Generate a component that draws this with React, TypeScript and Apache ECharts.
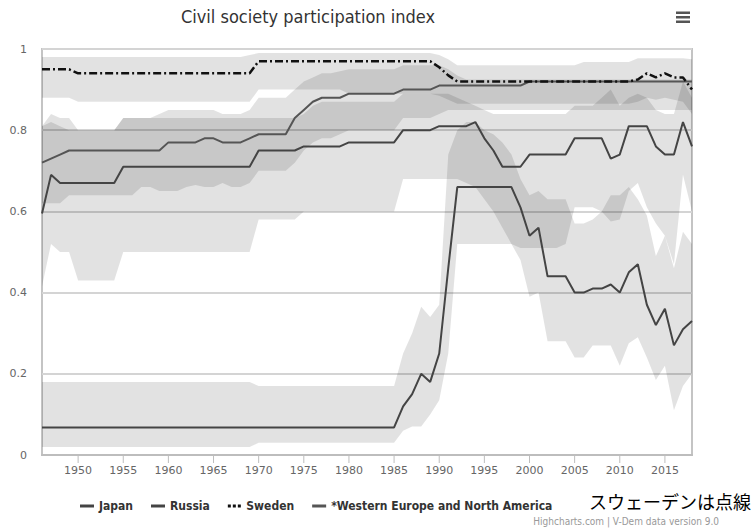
import React, { useEffect, useRef } from "react";
import * as echarts from "echarts";

// 1946 .. 2018
const years: number[] = Array.from({ length: 73 }, (_, i) => 1946 + i);

const xTickYears = [1950, 1955, 1960, 1965, 1970, 1975, 1980, 1985, 1990, 1995, 2000, 2005, 2010, 2015];

// ---- lines ----
const japan = [
  0.595, 0.69, 0.67, 0.67, 0.67, 0.67, 0.67, 0.67, 0.67, 0.71,
  0.71, 0.71, 0.71, 0.71, 0.71, 0.71, 0.71, 0.71, 0.71, 0.71,
  0.71, 0.71, 0.71, 0.71, 0.75, 0.75, 0.75, 0.75, 0.75, 0.76,
  0.76, 0.76, 0.76, 0.76, 0.77, 0.77, 0.77, 0.77, 0.77, 0.77,
  0.80, 0.80, 0.80, 0.80, 0.81, 0.81, 0.81, 0.81, 0.82, 0.78,
  0.75, 0.71, 0.71, 0.71, 0.74, 0.74, 0.74, 0.74, 0.74, 0.78,
  0.78, 0.78, 0.78, 0.73, 0.74, 0.81, 0.81, 0.81, 0.76, 0.74,
  0.74, 0.82, 0.76,
];
const russia = [
  0.068, 0.068, 0.068, 0.068, 0.068, 0.068, 0.068, 0.068, 0.068, 0.068,
  0.068, 0.068, 0.068, 0.068, 0.068, 0.068, 0.068, 0.068, 0.068, 0.068,
  0.068, 0.068, 0.068, 0.068, 0.068, 0.068, 0.068, 0.068, 0.068, 0.068,
  0.068, 0.068, 0.068, 0.068, 0.068, 0.068, 0.068, 0.068, 0.068, 0.068,
  0.12, 0.15, 0.20, 0.18, 0.25, 0.46, 0.66, 0.66, 0.66, 0.66,
  0.66, 0.66, 0.66, 0.61, 0.54, 0.56, 0.44, 0.44, 0.44, 0.40,
  0.40, 0.41, 0.41, 0.42, 0.40, 0.45, 0.47, 0.37, 0.32, 0.36,
  0.27, 0.31, 0.33,
];
const sweden = [
  0.95, 0.95, 0.95, 0.95, 0.94, 0.94, 0.94, 0.94, 0.94, 0.94,
  0.94, 0.94, 0.94, 0.94, 0.94, 0.94, 0.94, 0.94, 0.94, 0.94,
  0.94, 0.94, 0.94, 0.94, 0.97, 0.97, 0.97, 0.97, 0.97, 0.97,
  0.97, 0.97, 0.97, 0.97, 0.97, 0.97, 0.97, 0.97, 0.97, 0.97,
  0.97, 0.97, 0.97, 0.97, 0.955, 0.935, 0.92, 0.92, 0.92, 0.92,
  0.92, 0.92, 0.92, 0.92, 0.92, 0.92, 0.92, 0.92, 0.92, 0.92,
  0.92, 0.92, 0.92, 0.92, 0.92, 0.92, 0.925, 0.94, 0.93, 0.94,
  0.93, 0.93, 0.90,
];
const westEurope = [
  0.72, 0.73, 0.74, 0.75, 0.75, 0.75, 0.75, 0.75, 0.75, 0.75,
  0.75, 0.75, 0.75, 0.75, 0.77, 0.77, 0.77, 0.77, 0.78, 0.78,
  0.77, 0.77, 0.77, 0.78, 0.79, 0.79, 0.79, 0.79, 0.83, 0.85,
  0.87, 0.88, 0.88, 0.88, 0.89, 0.89, 0.89, 0.89, 0.89, 0.89,
  0.90, 0.90, 0.90, 0.90, 0.91, 0.91, 0.91, 0.91, 0.91, 0.91,
  0.91, 0.91, 0.91, 0.91, 0.92, 0.92, 0.92, 0.92, 0.92, 0.92,
  0.92, 0.92, 0.92, 0.92, 0.92, 0.92, 0.92, 0.92, 0.92, 0.92,
  0.92, 0.92, 0.92,
];

// ---- confidence bands ----
const japanLow = [
  0.415, 0.52, 0.50, 0.50, 0.43, 0.43, 0.43, 0.43, 0.43, 0.50,
  0.50, 0.50, 0.50, 0.50, 0.50, 0.50, 0.50, 0.50, 0.50, 0.50,
  0.50, 0.50, 0.50, 0.50, 0.58, 0.58, 0.58, 0.58, 0.58, 0.60,
  0.60, 0.60, 0.60, 0.60, 0.60, 0.60, 0.60, 0.60, 0.60, 0.60,
  0.68, 0.68, 0.68, 0.68, 0.68, 0.68, 0.68, 0.67, 0.66, 0.63,
  0.60, 0.56, 0.52, 0.51, 0.51, 0.51, 0.51, 0.51, 0.52, 0.61,
  0.61, 0.61, 0.60, 0.575, 0.58, 0.65, 0.67, 0.61, 0.57, 0.54,
  0.47, 0.69, 0.60,
];
const japanHigh = [
  0.81, 0.82, 0.81, 0.80, 0.80, 0.80, 0.80, 0.80, 0.80, 0.83,
  0.83, 0.83, 0.83, 0.83, 0.83, 0.83, 0.83, 0.83, 0.83, 0.83,
  0.83, 0.83, 0.83, 0.83, 0.83, 0.83, 0.83, 0.83, 0.83, 0.84,
  0.86, 0.87, 0.87, 0.87, 0.87, 0.87, 0.87, 0.87, 0.87, 0.87,
  0.89, 0.89, 0.89, 0.89, 0.89, 0.89, 0.88, 0.87, 0.86, 0.85,
  0.84, 0.84, 0.84, 0.84, 0.84, 0.84, 0.84, 0.84, 0.84, 0.86,
  0.86, 0.86, 0.88, 0.90, 0.86, 0.88, 0.89, 0.88, 0.85, 0.84,
  0.84, 0.92, 0.88,
];
const russiaLow = [
  0.02, 0.02, 0.02, 0.02, 0.02, 0.02, 0.02, 0.02, 0.02, 0.02,
  0.02, 0.02, 0.02, 0.02, 0.02, 0.02, 0.02, 0.02, 0.02, 0.02,
  0.02, 0.02, 0.02, 0.02, 0.03, 0.03, 0.03, 0.03, 0.03, 0.03,
  0.03, 0.03, 0.03, 0.03, 0.03, 0.03, 0.03, 0.03, 0.03, 0.03,
  0.06, 0.07, 0.07, 0.10, 0.135, 0.25, 0.52, 0.52, 0.52, 0.52,
  0.52, 0.52, 0.52, 0.48, 0.39, 0.40, 0.28, 0.28, 0.28, 0.24,
  0.24, 0.27, 0.27, 0.27, 0.22, 0.275, 0.29, 0.24, 0.185, 0.22,
  0.11, 0.17, 0.20,
];
const russiaHigh = [
  0.18, 0.18, 0.18, 0.18, 0.18, 0.18, 0.18, 0.18, 0.18, 0.18,
  0.18, 0.18, 0.18, 0.18, 0.18, 0.18, 0.18, 0.18, 0.18, 0.18,
  0.18, 0.18, 0.18, 0.18, 0.17, 0.17, 0.17, 0.17, 0.17, 0.17,
  0.17, 0.17, 0.17, 0.17, 0.17, 0.17, 0.17, 0.17, 0.17, 0.17,
  0.25, 0.30, 0.365, 0.34, 0.37, 0.74, 0.80, 0.82, 0.82, 0.80,
  0.79, 0.77, 0.74, 0.68, 0.64, 0.65, 0.63, 0.63, 0.63, 0.57,
  0.57, 0.58, 0.60, 0.64, 0.64, 0.66, 0.63, 0.59, 0.49, 0.54,
  0.46, 0.55, 0.52,
];
const swedenLow = [
  0.88, 0.88, 0.88, 0.88, 0.87, 0.87, 0.87, 0.87, 0.87, 0.87,
  0.87, 0.87, 0.87, 0.87, 0.87, 0.87, 0.87, 0.87, 0.87, 0.87,
  0.87, 0.87, 0.87, 0.87, 0.90, 0.90, 0.90, 0.90, 0.90, 0.90,
  0.90, 0.90, 0.90, 0.90, 0.89, 0.89, 0.89, 0.89, 0.89, 0.89,
  0.89, 0.89, 0.89, 0.89, 0.885, 0.875, 0.865, 0.865, 0.865, 0.865,
  0.865, 0.865, 0.865, 0.865, 0.865, 0.865, 0.865, 0.865, 0.865, 0.865,
  0.865, 0.865, 0.865, 0.865, 0.865, 0.865, 0.87, 0.88, 0.875, 0.88,
  0.875, 0.87, 0.84,
];
const swedenHigh = [
  0.98, 0.98, 0.98, 0.98, 0.98, 0.98, 0.98, 0.98, 0.98, 0.98,
  0.98, 0.98, 0.98, 0.98, 0.98, 0.98, 0.98, 0.98, 0.98, 0.98,
  0.98, 0.98, 0.98, 0.985, 0.99, 0.99, 0.99, 0.99, 0.99, 0.99,
  0.99, 0.99, 0.99, 0.99, 0.99, 0.99, 0.99, 0.99, 0.99, 0.99,
  0.99, 0.99, 0.99, 0.99, 0.985, 0.975, 0.96, 0.96, 0.96, 0.96,
  0.96, 0.96, 0.96, 0.96, 0.96, 0.96, 0.96, 0.96, 0.96, 0.96,
  0.968, 0.968, 0.968, 0.968, 0.968, 0.968, 0.977, 0.977, 0.977, 0.977,
  0.977, 0.977, 0.975,
];
const westEuropeLow = [
  0.62, 0.62, 0.62, 0.64, 0.64, 0.64, 0.64, 0.64, 0.64, 0.64,
  0.64, 0.66, 0.66, 0.65, 0.65, 0.65, 0.66, 0.665, 0.66, 0.66,
  0.67, 0.66, 0.66, 0.67, 0.70, 0.70, 0.70, 0.70, 0.72, 0.75,
  0.77, 0.78, 0.78, 0.79, 0.80, 0.80, 0.80, 0.80, 0.80, 0.80,
  0.83, 0.83, 0.83, 0.83, 0.84, 0.85, 0.85, 0.85, 0.85, 0.85,
  0.85, 0.85, 0.85, 0.85, 0.85, 0.85, 0.85, 0.85, 0.85, 0.85,
  0.85, 0.85, 0.85, 0.85, 0.85, 0.85, 0.85, 0.85, 0.85, 0.85,
  0.85, 0.85, 0.85,
];
const westEuropeHigh = [
  0.81, 0.84, 0.83, 0.83, 0.80, 0.80, 0.80, 0.80, 0.80, 0.83,
  0.83, 0.83, 0.83, 0.84, 0.85, 0.85, 0.85, 0.85, 0.85, 0.85,
  0.84, 0.84, 0.84, 0.85, 0.88, 0.88, 0.88, 0.88, 0.90, 0.92,
  0.93, 0.94, 0.94, 0.945, 0.95, 0.95, 0.95, 0.95, 0.95, 0.95,
  0.96, 0.96, 0.96, 0.96, 0.96, 0.95, 0.935, 0.925, 0.925, 0.925,
  0.925, 0.925, 0.925, 0.925, 0.925, 0.925, 0.925, 0.925, 0.925, 0.925,
  0.925, 0.925, 0.925, 0.925, 0.925, 0.925, 0.925, 0.925, 0.925, 0.925,
  0.925, 0.925, 0.925,
];

const NARROW = "'Liberation Sans Narrow', 'DejaVu Sans Condensed', 'Roboto', sans-serif";
const AXISFONT = "'DejaVu Sans', sans-serif";
const BAND_FILL = "rgba(0,0,0,0.115)";

function band(name: string, low: number[], high: number[]) {
  return {
    type: "custom",
    name,
    silent: true,
    clip: true,
    z: 1,
    data: [[years[0], low[0]]],
    encode: { x: 0, y: 1 },
    renderItem: (_params: any, api: any) => {
      const pts: number[][] = [];
      for (let i = 0; i < years.length; i++) pts.push(api.coord([years[i], high[i]]));
      for (let i = years.length - 1; i >= 0; i--) pts.push(api.coord([years[i], low[i]]));
      return { type: "polygon", shape: { points: pts }, style: { fill: BAND_FILL } };
    },
  };
}

// x-axis tick marks below the axis, placed through the axis scale
const tickSeries = {
  type: "custom",
  name: "ticks",
  silent: true,
  clip: false,
  z: 6,
  data: xTickYears.map((y) => [y, 0]),
  encode: { x: 0, y: 1 },
  renderItem: (_params: any, api: any) => {
    const p = api.coord([api.value(0), 0]);
    return {
      type: "line",
      shape: { x1: p[0], y1: p[1] + 1, x2: p[0], y2: p[1] + 8 },
      style: { stroke: "#bdbdbd", lineWidth: 1 },
    };
  },
};

function line(name: string, values: number[], color: string, width: number, type: any) {
  return {
    type: "line",
    name,
    z: 5,
    symbol: "none",
    data: years.map((y, i) => [y, values[i]]),
    lineStyle: { color, width, type },
    itemStyle: { color },
  };
}

export default function App() {
  const ref = useRef<HTMLDivElement>(null);
  useEffect(() => {
    if (!ref.current) return;
    const chart = echarts.init(ref.current, null, { renderer: "svg" });
    chart.setOption({
      animation: false,
      backgroundColor: "#ffffff",
      grid: {
        left: 42,
        top: 49,
        width: 650,
        height: 406,
        show: true,
        borderColor: "#c4c4c4",
        borderWidth: 2,
        backgroundColor: "transparent",
      },
      xAxis: {
        type: "value",
        min: 1946,
        max: 2018,
        splitLine: { show: false },
        axisLine: { show: true, lineStyle: { color: "#bdbdbd", width: 2 } },
        axisTick: { show: false },
        axisLabel: {
          customValues: xTickYears,
          margin: 10,
          fontSize: 11,
          color: "#666",
          fontFamily: AXISFONT,
          formatter: (v: number) => String(v),
        },
      },
      yAxis: {
        type: "value",
        min: 0,
        max: 1,
        interval: 0.2,
        axisLine: { show: false },
        axisTick: { show: false },
        splitLine: { lineStyle: { color: "#d4d4d4", width: 2 } },
        axisLabel: { margin: 15, fontSize: 11, color: "#666", fontFamily: AXISFONT },
      },
      legend: {
        data: [
          { name: "Japan", icon: "rect" },
          { name: "Russia", icon: "rect" },
          { name: "Sweden", icon: "path://M0,0h3v3h-3zM5,0h3v3h-3zM10,0h3v3h-3z" },
          { name: "*Western Europe and North America", icon: "rect" },
        ],
        left: 75,
        top: 495,
        itemWidth: 14,
        itemHeight: 3,
        itemGap: 18,
        selectedMode: false,
        lineStyle: { width: 0 },
        textStyle: { fontFamily: NARROW, fontWeight: "bold", fontSize: 12, color: "#333" },
      },
      graphic: [
        {
          type: "text",
          x: 308,
          y: 16,
          style: {
            text: "Civil society participation index",
            font: "18px " + NARROW,
            fill: "#333",
            textAlign: "center",
            textVerticalAlign: "middle",
          },
        },
        { type: "rect", shape: { x: 676, y: 11.5, width: 14, height: 2.5 }, style: { fill: "#555" } },
        { type: "rect", shape: { x: 676, y: 16, width: 14, height: 2.5 }, style: { fill: "#555" } },
        { type: "rect", shape: { x: 676, y: 20.5, width: 14, height: 2.5 }, style: { fill: "#555" } },
        {
          type: "text",
          x: 589,
          y: 501,
          style: {
            text: "スウェーデンは点線",
            font: "18px 'Noto Sans CJK JP', sans-serif",
            fill: "#000",
            textAlign: "left",
            textVerticalAlign: "middle",
          },
        },
        {
          type: "text",
          x: 719,
          y: 521,
          style: {
            text: "Highcharts.com | V-Dem data version 9.0",
            font: "10px " + NARROW,
            fill: "#999",
            textAlign: "right",
            textVerticalAlign: "middle",
          },
        },
      ],
      series: [
        band("Russia band", russiaLow, russiaHigh),
        band("Japan band", japanLow, japanHigh),
        band("WE band", westEuropeLow, westEuropeHigh),
        band("Sweden band", swedenLow, swedenHigh),
        tickSeries,
        line("*Western Europe and North America", westEurope, "#555", 2, "solid"),
        line("Japan", japan, "#444", 2, "solid"),
        line("Russia", russia, "#444", 2, "solid"),
        line("Sweden", sweden, "#111", 2.5, [8, 3, 2, 3]),
      ],
    });
    return () => chart.dispose();
  }, []);
  return (
    <div
      ref={ref}
      style={{ position: "fixed", left: 0, top: 0, width: 756, height: 532 }}
    />
  );
}
